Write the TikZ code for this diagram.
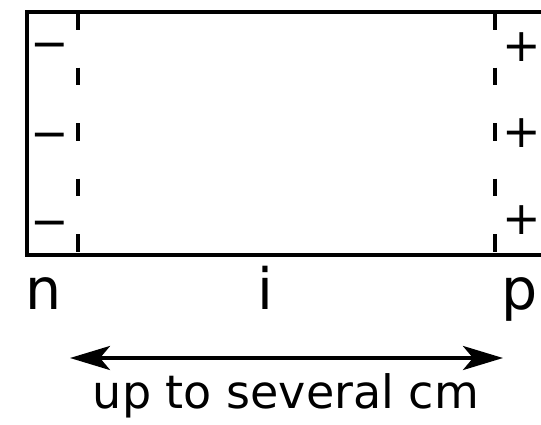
\documentclass[tikz,border=0pt]{standalone}
\usepackage{fontspec}
\setmainfont{DejaVu Sans}
\usetikzlibrary{arrows.meta}
\begin{document}
\begin{tikzpicture}[x=1pt,y=-1pt,
  frame/.style={line width=4pt,line join=miter},
  junction/.style={line width=4pt,dash pattern=on 17.5pt off 38pt},
  sign/.style={inner sep=0pt,anchor=base,font=\fontsize{46}{50}\selectfont},
  endlabel/.style={inner sep=0pt,anchor=base,font=\fontsize{57}{60}\selectfont},
  caption/.style={inner sep=0pt,anchor=base,font=\fontsize{46}{50}\selectfont},
  span/.style={line width=4pt,{Stealth[length=40pt,width=24pt,inset=10pt]}-{Stealth[length=40pt,width=24pt,inset=10pt]}}]
\useasboundingbox (0,0) rectangle (541,424);
\fill[white] (0,0) rectangle (541,424);
% frame
\coordinate (tr) at (545,12);
\coordinate (tl) at (27,12);
\coordinate (bl) at (27,255);
\coordinate (br) at (545,255);
\draw[frame] (tr) -- (tl) -- (bl) -- (br);
% junction lines
\coordinate (jlt) at (78,12);
\coordinate (jlb) at (78,255);
\coordinate (jrt) at (495,12);
\coordinate (jrb) at (495,255);
\draw[junction] (jlt) -- (jlb);
\draw[junction] (jrt) -- (jrb);
% signs
\node[sign] (m1) at (50,59) {−};
\node[sign] (m2) at (50,149) {−};
\node[sign] (m3) at (50,237) {−};
\node[sign] (p1) at (522,61) {+};
\node[sign] (p2) at (522,147) {+};
\node[sign] (p3) at (522,234) {+};
% labels
\node[endlabel] (n) at (43.5,309) {n};
\node[endlabel] (i) at (265,309) {i};
\node[endlabel] (p) at (520,309) {p};
% span arrow
\coordinate (al) at (70,358);
\coordinate (ar) at (503,358);
\draw[span] (al) -- (ar);
\node[caption] (cap) at (286,408) {up to several cm};
\end{tikzpicture}
\end{document}
